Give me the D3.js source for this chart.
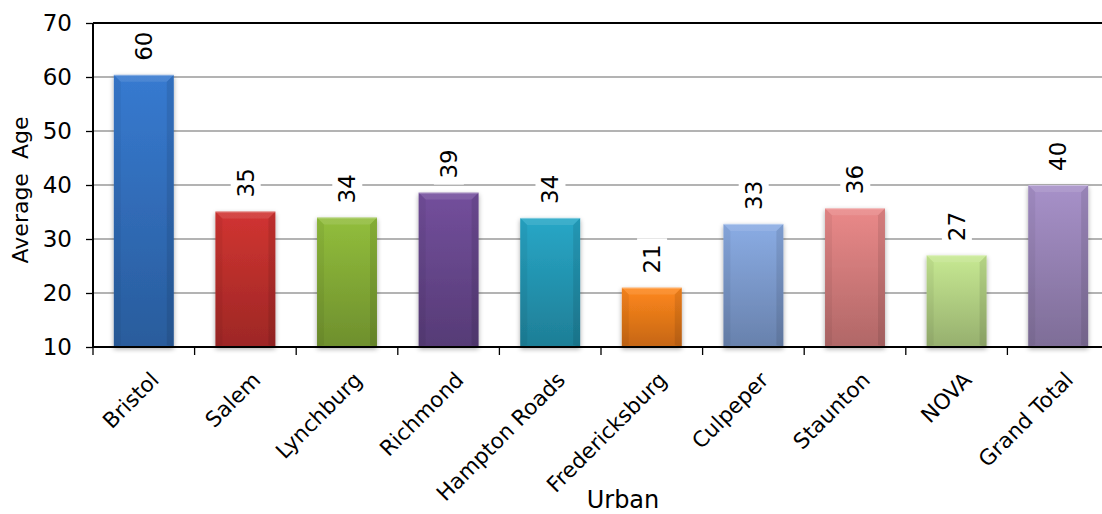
<!DOCTYPE html>
<html>
<head>
<meta charset="utf-8">
<script src="https://cdn.jsdelivr.net/npm/d3@7"></script>
<style>
  html, body { margin: 0; padding: 0; background: #fff; }
  svg { display: block; font-family: "Century Gothic", "DejaVu Sans", sans-serif; }
</style>
</head>
<body>
<svg id="chart" width="1102" height="514"></svg>
<script>
// Average age by urban region
const regions = ["Bristol", "Salem", "Lynchburg", "Richmond", "Hampton Roads",
                 "Fredericksburg", "Culpeper", "Staunton", "NOVA", "Grand Total"];
const averageAge = [60.4, 35.1, 34.0, 38.6, 33.9, 21.0, 32.8, 35.7, 27.0, 40.0];
const yTicks = [10, 20, 30, 40, 50, 60, 70];
const barColors = ["#3270be", "#bf302d", "#86ae37", "#69488f", "#2599b6",
                   "#f07c1a", "#7e9dd1", "#d67d7d", "#b6d586", "#9985b8"];

const svg = d3.select("#chart");
const plotLeft = 93, plotRight = 1109, plotTop = 23, plotBottom = 347;

const x = d3.scaleBand().domain(regions).range([plotLeft, plotRight]).padding(0);
const y = d3.scaleLinear().domain([10, 70]).range([plotBottom, plotTop]);
const barFrac = 0.59;

const defs = svg.append("defs");
const shadow = defs.append("filter").attr("id", "shadow")
  .attr("x", "-20%").attr("y", "-10%").attr("width", "140%").attr("height", "130%");
shadow.append("feGaussianBlur").attr("in", "SourceAlpha").attr("stdDeviation", 2.5);
shadow.append("feOffset").attr("dx", 0).attr("dy", 2).attr("result", "b");
shadow.append("feComponentTransfer").append("feFuncA").attr("type", "linear").attr("slope", 0.35);
const merge = shadow.append("feMerge");
merge.append("feMergeNode");
merge.append("feMergeNode").attr("in", "SourceGraphic");

const axShadow = defs.append("filter").attr("id", "axShadow")
  .attr("x", "-5%").attr("y", "-200%").attr("width", "110%").attr("height", "500%");
axShadow.append("feGaussianBlur").attr("stdDeviation", 1.5);

barColors.forEach((c, i) => {
  const g = defs.append("linearGradient").attr("id", "grad" + i)
    .attr("x1", 0).attr("y1", 0).attr("x2", 0).attr("y2", 1);
  g.append("stop").attr("offset", "0%").attr("stop-color", d3.color(c).brighter(0.25));
  g.append("stop").attr("offset", "100%").attr("stop-color", d3.color(c).darker(0.55));
});

// Gridlines
svg.append("g").selectAll("line")
  .data(yTicks.filter(t => t > 10 && t < 70))
  .join("line")
  .attr("x1", plotLeft).attr("x2", 1102)
  .attr("y1", d => y(d)).attr("y2", d => y(d))
  .attr("stroke", "#9a9a9a").attr("stroke-width", 1.3);

// Top border line
svg.append("line")
  .attr("x1", plotLeft).attr("x2", 1102)
  .attr("y1", y(70)).attr("y2", y(70))
  .attr("stroke", "#000").attr("stroke-width", 2.2);

// Bars
const bars = svg.append("g");
regions.forEach((r, i) => {
  const bw = x.bandwidth() * barFrac;
  const bx = x(r) + (x.bandwidth() - bw) / 2;
  const by = y(averageAge[i]);
  const bh = y(10) - by;
  const g = bars.append("g");
  g.append("rect")
    .attr("x", bx).attr("y", by).attr("width", bw).attr("height", bh)
    .attr("fill", "url(#grad" + i + ")")
    .attr("filter", "url(#shadow)");
  const bev = 7;
  // side bevels
  g.append("path")
    .attr("d", `M${bx},${by} L${bx + bev},${by + bev} L${bx + bev},${by + bh - 2} L${bx},${by + bh} Z`)
    .attr("fill", "#000").attr("opacity", 0.05);
  g.append("path")
    .attr("d", `M${bx + bw},${by} L${bx + bw - bev},${by + bev} L${bx + bw - bev},${by + bh - 2} L${bx + bw},${by + bh} Z`)
    .attr("fill", "#000").attr("opacity", 0.09);
  // top bevel
  g.append("path")
    .attr("d", `M${bx},${by} L${bx + bw},${by} L${bx + bw - bev},${by + bev} L${bx + bev},${by + bev} Z`)
    .attr("fill", "#fff").attr("opacity", 0.1);
  g.append("line")
    .attr("x1", bx).attr("x2", bx + bw).attr("y1", by + 0.5).attr("y2", by + 0.5)
    .attr("stroke", "#fff").attr("stroke-opacity", 0.35);
});

// Value labels
const fmt = d3.format(".0f");
const labels = svg.append("g");
regions.forEach((r, i) => {
  const cx = x(r) + x.bandwidth() / 2;
  const ly = y(averageAge[i]) - 14;
  const g = labels.append("g").attr("transform", `translate(${cx},${ly}) rotate(-90)`);
  const t = g.append("text")
    .attr("x", 0).attr("y", 0).attr("dy", "0.36em")
    .attr("text-anchor", "start")
    .attr("font-size", 23).attr("fill", "#000")
    .text(fmt(averageAge[i]));
  const bb = t.node().getBBox();
  g.insert("rect", "text")
    .attr("x", bb.x - 6).attr("y", bb.y - 2)
    .attr("width", bb.width + 12).attr("height", bb.height + 4)
    .attr("fill", "#fff");
});

// Y axis
const yAxis = svg.append("g").attr("transform", `translate(${plotLeft},0)`)
  .call(d3.axisLeft(y).tickValues(yTicks).tickSize(7).tickPadding(14).tickFormat(d3.format("d")));
yAxis.select(".domain").attr("stroke", "#000").attr("stroke-width", 2).attr("d", `M0,${plotTop}V${plotBottom}`);
yAxis.selectAll(".tick line").attr("stroke", "#000").attr("stroke-width", 1.3);
yAxis.selectAll(".tick text").attr("font-size", 23).attr("fill", "#000")
  .attr("font-family", "\"Century Gothic\", \"DejaVu Sans\", sans-serif");

// X axis shadow and line
svg.append("line")
  .attr("x1", plotLeft).attr("x2", 1102).attr("y1", plotBottom + 3).attr("y2", plotBottom + 3)
  .attr("stroke", "#000").attr("stroke-opacity", 0.35).attr("stroke-width", 3)
  .attr("filter", "url(#axShadow)");
svg.append("line")
  .attr("x1", plotLeft).attr("x2", 1102).attr("y1", plotBottom).attr("y2", plotBottom)
  .attr("stroke", "#000").attr("stroke-width", 2.2);

// Category boundary ticks
svg.append("g").selectAll("line")
  .data(regions)
  .join("line")
  .attr("x1", d => x(d)).attr("x2", d => x(d))
  .attr("y1", plotBottom).attr("y2", plotBottom + 8)
  .attr("stroke", "#000").attr("stroke-width", 1.3);

// Category labels
svg.append("g").selectAll("text")
  .data(regions)
  .join("text")
  .attr("transform", d => `translate(${x(d) + x.bandwidth() / 2 + 11},376) rotate(-45)`)
  .attr("text-anchor", "end").attr("dy", "0.35em")
  .attr("font-size", 21.5).attr("fill", "#000")
  .text(d => d);

// Axis titles
svg.append("text")
  .attr("transform", "translate(20,190) rotate(-90)")
  .attr("text-anchor", "middle").attr("dy", "0.35em")
  .attr("font-size", 22).attr("fill", "#000")
  .style("white-space", "pre")
  .text("Average  Age");

svg.append("text")
  .attr("x", 623).attr("y", 500).attr("dy", "0.35em")
  .attr("text-anchor", "middle")
  .attr("font-size", 24).attr("fill", "#000")
  .text("Urban");
</script>
</body>
</html>
